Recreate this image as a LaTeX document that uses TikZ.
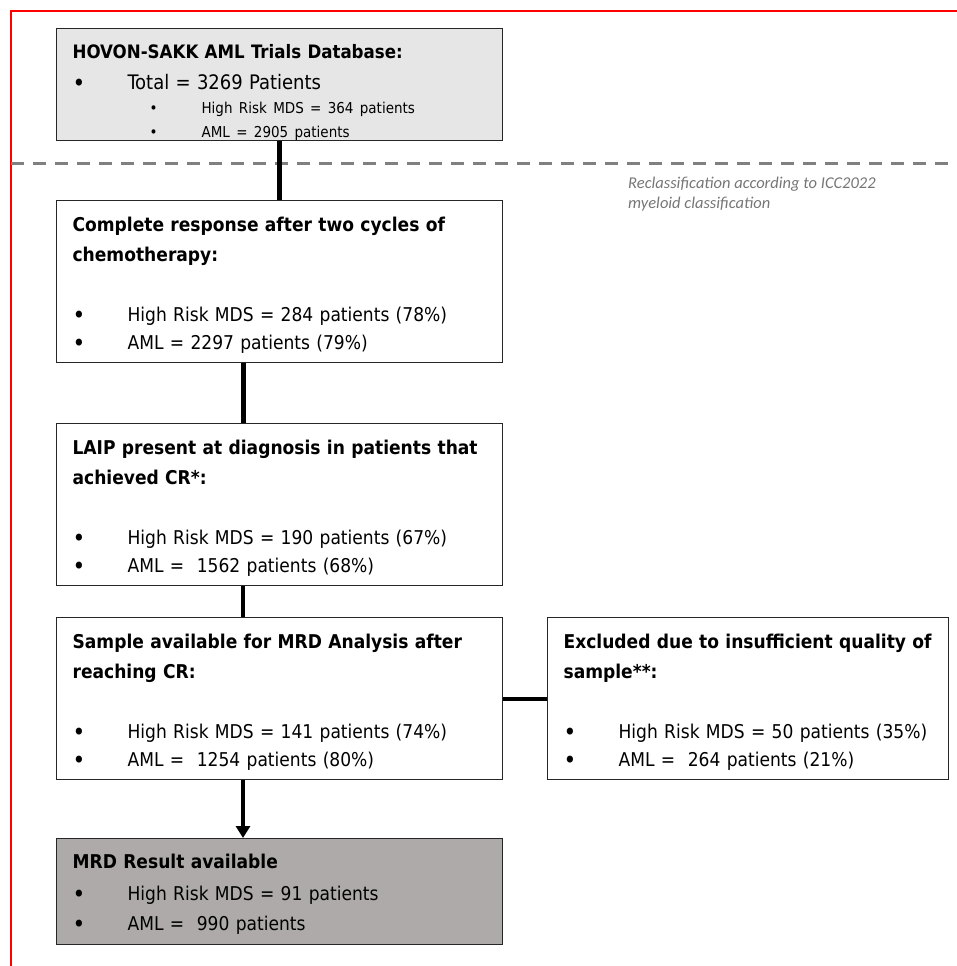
\documentclass[tikz,border=0pt]{standalone}
\usepackage{fontspec}
\setmainfont{DejaVu Sans Condensed}
\newfontfamily\notefont{Carlito}
\usetikzlibrary{arrows.meta}

\definecolor{boxgray}{RGB}{230,230,230}
\definecolor{resultgray}{RGB}{174,170,170}
\definecolor{dashgray}{RGB}{128,128,128}
\definecolor{notegray}{RGB}{118,118,118}

% bullet lines, title lines and struts for the first and last line
\newcommand{\itm}[1]{\makebox[55pt][l]{\raisebox{-1.5pt}{\fontsize{24}{24}\selectfont\textbullet}}#1}
\newcommand{\subitm}[1]{\hspace*{77pt}\makebox[52pt][l]{\textbullet}#1}
\newcommand{\ttl}[1]{\mbox{\bfseries #1}}
\newcommand{\tp}[1]{\rule{0pt}{#1}}
\newcommand{\bt}[1]{\rule[-#1]{0pt}{#1}}

\begin{document}
\begin{tikzpicture}[x=1pt,y=-1pt]

      \useasboundingbox (0,0) rectangle (957,966);

      % frame and reclassification line
      \draw[red,line width=2pt] (11,966) -- (11,11) -- (957,11);
      \draw[dashgray,line width=3pt,dash pattern=on 13pt off 9pt] (11,163) -- (957,163);

      \begin{scope}[every node/.style={draw=black!85,line width=1.2pt,anchor=north west,
          align=left,text width=414pt,inner xsep=16pt,inner ysep=0pt,
          font=\fontsize{19}{24}\selectfont}]
        \node[fill=boxgray] (1) at (56,28)
          {\tp{30pt}{\fontsize{18.5}{24}\selectfont\ttl{HOVON-SAKK AML Trials Database:}}\\[7pt]
           {\fontsize{20}{24}\selectfont\itm{Total = 3269 Patients}}\\
           {\fontsize{15}{24}\selectfont\subitm{High Risk MDS = 364 patients}}\\
           {\fontsize{15}{24}\selectfont\subitm{AML = 2905 patients}}\bt{3pt}};
        \node (2) at (56,200)
          {\tp{31pt}\ttl{Complete response after two cycles of}\\[6pt]
           \ttl{chemotherapy:}\\[36pt]
           \itm{High Risk MDS = 284 patients (78\%)}\\[4pt]
           \itm{AML = 2297 patients (79\%)}\bt{13pt}};
        \node (3) at (56,423)
          {\tp{31pt}\ttl{LAIP present at diagnosis in patients that}\\[6pt]
           \ttl{achieved CR*:}\\[36pt]
           \itm{High Risk MDS = 190 patients (67\%)}\\[4pt]
           \itm{AML = \ 1562 patients (68\%)}\bt{13pt}};
        \node (4) at (56,617)
          {\tp{31pt}\ttl{Sample available for MRD Analysis after}\\[6pt]
           \ttl{reaching CR:}\\[36pt]
           \itm{High Risk MDS = 141 patients (74\%)}\\[4pt]
           \itm{AML = \ 1254 patients (80\%)}\bt{13pt}};
        \node[text width=369pt] (5) at (547,617)
          {\tp{31pt}\ttl{Excluded due to insufficient quality of}\\[6pt]
           \ttl{sample**:}\\[36pt]
           \itm{High Risk MDS = 50 patients (35\%)}\\[4pt]
           \itm{AML = \ 264 patients (21\%)}\bt{13pt}};
        \node[fill=resultgray] (6) at (56,838)
          {\tp{30pt}\ttl{MRD Result available}\\[8pt]
           \itm{High Risk MDS = 91 patients}\\[6pt]
           \itm{AML = \ 990 patients}\bt{14pt}};
      \end{scope}

      \node[font=\notefont\itshape\fontsize{16.5}{20}\selectfont,text=notegray,
        align=left,anchor=north west,inner sep=0pt] (note) at (628,177)
        {Reclassification according to ICC2022\\myeloid classification};

      % connectors
      \draw[line width=5pt] (1.south) -- (2.north);
      \draw[line width=5pt] ([xshift=187pt]2.south west) -- ([xshift=187pt]3.north west);
      \draw[line width=4.5pt] ([xshift=187pt]3.south west) -- ([xshift=187pt]4.north west);
      \draw[line width=4pt] (4.east) -- (5.west);
      \draw[line width=3.5pt,-{Triangle[width=14pt,length=12pt]}]
        ([xshift=187pt]4.south west) -- ([xshift=187pt]6.north west);

\end{tikzpicture}
\end{document}
